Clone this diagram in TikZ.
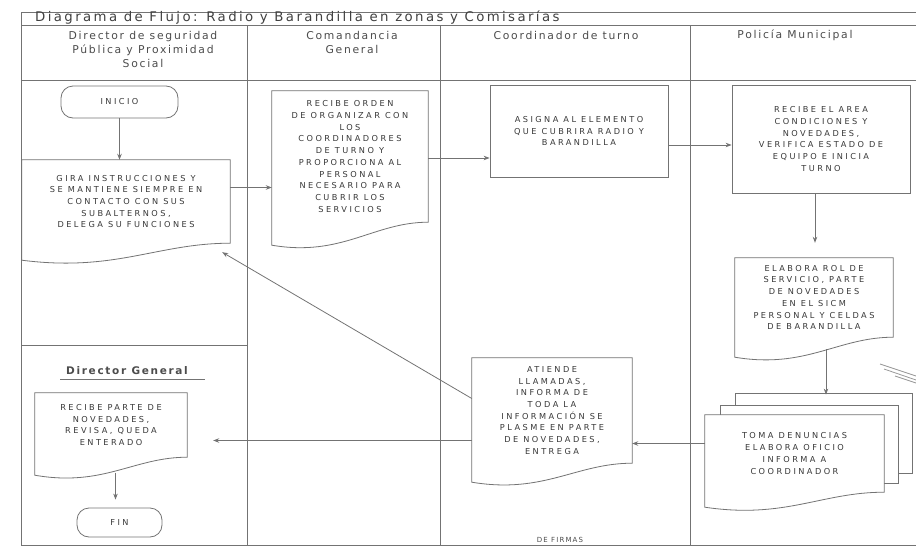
\documentclass[tikz,border=0pt]{standalone}
\usepackage{fontspec}
\setmainfont{DejaVu Sans}
\newfontfamily\titlefont[LetterSpace=18]{DejaVu Sans}
\newfontfamily\headfont[LetterSpace=16]{DejaVu Sans}
\newfontfamily\boxfont[LetterSpace=30]{DejaVu Sans}
\usetikzlibrary{calc,arrows.meta}
\pgfdeclarelayer{background}
\pgfsetlayers{background,main}
\tikzset{
  ln/.style={draw=black!55, line width=0.8pt},
  arr/.style={ln, -{Stealth[length=6pt,width=4.5pt]}},
  txt/.style={inner sep=0pt, align=center, text=black!78, font=\boxfont\fontsize{8.2}{11.7}\selectfont},
  box/.style={txt, draw=black!55, line width=0.8pt},
  term/.style={box, rounded corners=12pt},
  page/.style={draw=black!55, line width=0.8pt, fill=white, inner sep=0pt},
  head/.style={inner sep=0pt, align=center, text=black!70, font=\headfont\fontsize{10.8}{14}\selectfont},
}
\newcommand\docwave[2]{%
  \draw[ln, fill=white] let \p1=(#1.south west), \p2=(#1.north east) in
    (\x1,\y2) -- (\x2,\y2) -- (\x2,\y1)
    .. controls ({\x2-0.35*(\x2-\x1)},\y1) and ({\x1+0.45*(\x2-\x1)},{\y1-#2pt-12pt})
    .. (\x1,{\y1-#2pt}) -- cycle;}
\begin{document}
\begin{tikzpicture}[x=1pt,y=-1pt]
\useasboundingbox (0,0) rectangle (916,549);
% frame
\draw[ln] (21,12) -- (916,12);
\draw[ln] (21,25) -- (916,25);
\draw[ln] (21,80) -- (916,80);
\draw[ln] (21,12) -- (21,545);
\draw[ln] (247,25) -- (247,545);
\draw[ln] (440,25) -- (440,545);
\draw[ln] (690,25) -- (690,545);
\draw[ln] (21,545) -- (916,545);
\draw[ln] (21,345) -- (247,345);
\draw[ln] (60,379) -- (205,379);
% titles
\node[anchor=west, inner sep=0pt, text=black!75, font=\titlefont\fontsize{13.3}{15}\selectfont] (t) at (35,18) {Diagrama de Flujo: Radio y Barandilla en zonas y Comisarías};
\node[head] (h1) at (143,49) {Director de seguridad\\Pública y Proximidad\\Social};
\node[head] (h2) at (352,42) {Comandancia\\General};
\node[head] (h3) at (566,35) {Coordinador de turno};
\node[head] (h4) at (795,35) {Policía Municipal};
\node[head, font=\headfont\bfseries\fontsize{10.5}{14}\selectfont] (dg) at (127,371) {Director General};
% nodes
\node[term, minimum width=117pt, minimum height=32pt] (ini) at (119.5,102) {INICIO};
\node[txt, minimum width=208pt, minimum height=83pt] (b2) at (126,201.5) {GIRA INSTRUCCIONES Y\\SE MANTIENE SIEMPRE EN\\CONTACTO CON SUS\\SUBALTERNOS,\\DELEGA SU FUNCIONES};
\node[txt, minimum width=156pt, minimum height=131pt] (b3) at (350,156.5) {RECIBE ORDEN\\DE ORGANIZAR CON\\LOS\\COORDINADORES\\DE TURNO Y\\PROPORCIONA AL\\PERSONAL\\NECESARIO PARA\\CUBRIR LOS\\SERVICIOS};
\node[box, minimum width=178pt, minimum height=92pt] (b4) at (579,131) {ASIGNA AL ELEMENTO\\QUE CUBRIRA RADIO Y\\BARANDILLA};
\node[box, minimum width=178pt, minimum height=108pt] (b5) at (821,139) {RECIBE EL AREA\\CONDICIONES Y\\NOVEDADES,\\VERIFICA ESTADO DE\\EQUIPO E INICIA\\TURNO};
\node[txt, minimum width=158pt, minimum height=79pt] (b6) at (814,297.5) {ELABORA ROL DE\\SERVICIO, PARTE\\DE NOVEDADES\\EN EL SICM\\PERSONAL Y CELDAS\\DE BARANDILLA};
\node[txt, minimum width=179pt, minimum height=77pt] (b7) at (794.5,453.5) {TOMA DENUNCIAS\\ELABORA OFICIO\\INFORMA A\\COORDINADOR};
\node[txt, minimum width=160pt, minimum height=105pt] (b8) at (552,410.5) {ATIENDE\\LLAMADAS,\\INFORMA DE\\TODA LA\\INFORMACIÓN SE\\PLASME EN PARTE\\DE NOVEDADES,\\ENTREGA};
\node[txt, minimum width=152pt, minimum height=64pt] (b9) at (111,425) {RECIBE PARTE DE\\NOVEDADES,\\REVISA, QUEDA\\ENTERADO};
\node[term, minimum width=85pt, minimum height=29pt] (fin) at (119.5,522.5) {FIN};
% shapes on background
\begin{pgfonlayer}{background}
\node[page, minimum width=177pt, minimum height=80pt] (p3) at (823.5,433) {};
\node[page, minimum width=178pt, minimum height=78pt] (p2) at (809,444) {};
\docwave{b2}{17}
\docwave{b3}{23}
\docwave{b6}{20}
\docwave{b7}{15}
\docwave{b8}{19}
\docwave{b9}{18}
\end{pgfonlayer}
% connectors
\draw[arr] (ini.south) -- (ini.south |- b2.north);
\draw[arr] ([yshift=14pt]b2.east) -- ([yshift=14pt]b2.east -| b3.west);
\draw[arr] ([yshift=-1.5pt]b3.east) -- ([yshift=-1.5pt]b3.east -| b4.west);
\draw[arr] ([yshift=-14pt]b4.east) -- ([yshift=-14pt]b4.east -| b5.west);
\draw[arr, shorten >=15pt] ([xshift=-6pt]b5.south) -- ([xshift=-6pt]b5.south |- b6.north);
\draw[arr, shorten >=10pt] ([xshift=12pt,yshift=-12pt]b6.south) -- ([xshift=12pt,yshift=-12pt]b6.south |- p3.north);
\draw[arr] ([yshift=10pt]b7.west) -- ([yshift=10pt]b7.west -| b8.east);
\draw[arr, shorten >=26pt] ([yshift=-30pt]b8.west) -- ([yshift=-30pt]b8.west -| b9.east);
\draw[arr] ([yshift=12pt]b8.west) -- ($(b2.south east)+(-8,9)$);
\draw[arr, shorten >=8pt] ($(fin.north)+(-4,-35)$) -- ($(fin.north)+(-4,0)$);
% scan marks
\draw[ln, draw=black!40] (880,364) -- (916,376);
\draw[ln, draw=black!40] (884,369) -- (916,380);
\draw[ln, draw=black!40] (895,376) -- (916,383);
\node[inner sep=0pt, text=black!70, font=\headfont\fontsize{7}{8}\selectfont] (pie) at (560,540) {DE FIRMAS};
\end{tikzpicture}
\end{document}
